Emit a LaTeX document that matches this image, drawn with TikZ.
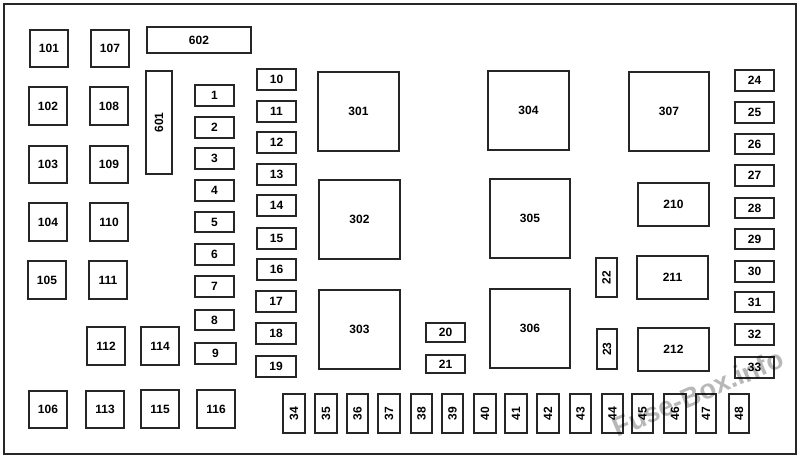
\documentclass[tikz,border=0pt]{standalone}
\usepackage{fontspec}
\setmainfont{Liberation Sans}
\tikzset{
	fusebox/.style={draw=black!85,line width=1.5pt,fill=white,inner sep=0pt,font=\fontsize{9}{10}\selectfont\bfseries},
	fuselogo/.style={inner sep=0pt,rotate=23,text=black,opacity=0.28,font=\fontsize{20.5}{24}\selectfont\bfseries}
}
\begin{document}
\begin{tikzpicture}[x=0.75pt,y=-0.75pt]
	\useasboundingbox (0,0) rectangle (800,458);
	\fill[white] (0,0) rectangle (800,458);
	\draw[black!85,line width=1.5pt] (4,4) rectangle (796,454);
	
	% upright labels: name/left/top/right/bottom
	\foreach \n/\xa/\ya/\xb/\yb in {
		101/29/29/69/68, 102/28/86/68/126, 103/28/145/68/184, 104/28/202/68/242, 105/27/260/67/300, 106/28/390/68/429,
		107/90/29/130/68, 108/89/86/129/126, 109/89/145/129/184, 110/89/202/129/242, 111/88/260/128/300,
		112/86/326/126/366, 113/85/390/125/429, 114/140/326/180/366, 115/140/389/180/429, 116/196/389/236/429,
		602/146/26/252/54,
		1/194/84/235/107, 2/194/116/235/139, 3/194/147/235/170, 4/194/179/235/202, 5/194/211/235/233,
		6/194/243/235/266, 7/194/275/235/298, 8/194/309/235/331, 9/194/342/237/365,
		10/256/68/297/91, 11/256/100/297/123, 12/256/131/297/154, 13/256/163/297/186, 14/256/194/297/217,
		15/256/227/297/250, 16/256/258/297/281, 17/255/290/297/313, 18/255/322/297/345, 19/255/355/297/378,
		20/425/322/466/343, 21/425/354/466/374,
		24/734/69/775/92, 25/734/101/775/124, 26/734/133/775/155, 27/734/164/775/187, 28/734/197/775/219,
		29/734/228/775/250, 30/734/260/775/283, 31/734/291/775/313, 32/734/323/775/346, 33/734/356/775/379,
		210/637/182/710/227, 211/636/255/709/300, 212/637/327/710/372,
		301/317/71/400/152, 302/318/179/401/260, 303/318/289/401/370,
		304/487/70/570/151, 305/489/178/571/259, 306/489/288/571/369, 307/628/71/710/152}
	\node[fusebox,minimum width={(\xb-\xa-2)*0.75pt},minimum height={(\yb-\ya-2)*0.75pt}] (f\n) at ({(\xa+\xb)/2},{(\ya+\yb)/2}) {\n};
	
	% turned labels
	\foreach \n/\xa/\ya/\xb/\yb in {
		601/145/70/173/175, 22/595/257/618/298, 23/596/328/618/370,
		34/282/393/306/434, 35/314/393/338/434, 36/346/393/369/434, 37/377/393/401/434, 38/410/393/433/434,
		39/441/393/464/434, 40/473/393/497/434, 41/504/393/528/434, 42/536/393/560/434, 43/569/393/592/434,
		44/601/393/624/434, 45/631/393/654/434, 46/663/393/687/434, 47/695/393/717/434, 48/728/393/750/434}
	\node[fusebox,rotate=90,minimum width={(\yb-\ya-2)*0.75pt},minimum height={(\xb-\xa-2)*0.75pt}] (f\n) at ({(\xa+\xb)/2},{(\ya+\yb)/2}) {\n};
	
	\node[fuselogo] (logo) at (698,393) {Fuse-Box.info};
\end{tikzpicture}
\end{document}
